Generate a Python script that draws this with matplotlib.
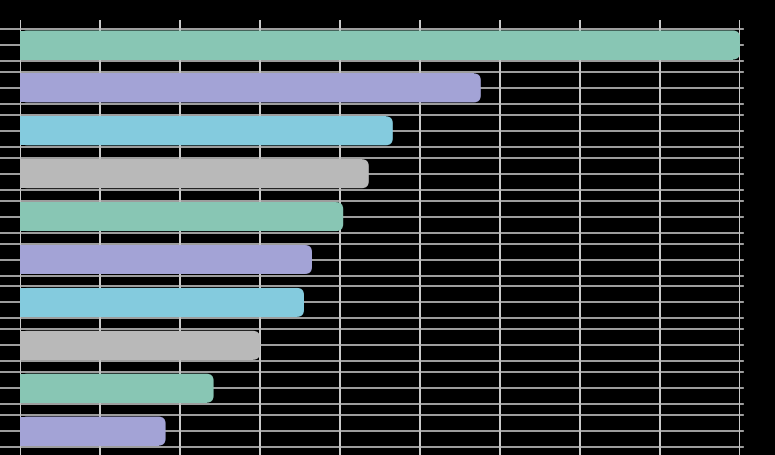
import matplotlib
matplotlib.use("Agg")
import matplotlib.pyplot as plt
from matplotlib.patches import FancyBboxPatch, Rectangle
import matplotlib.transforms as mtransforms

# datos
values = [90.0, 57.6, 46.6, 43.6, 40.4, 36.5, 35.5, 30.0, 24.2, 18.2]
colors = ["#88c6b4", "#a3a3d6", "#84cbde", "#b9b9b9", "#88c6b4",
          "#a3a3d6", "#84cbde", "#b9b9b9", "#88c6b4", "#a3a3d6"]
x_ticks = [0, 10, 20, 30, 40, 50, 60, 70, 80, 90]

W, H = 775, 456
fig = plt.figure(figsize=(W / 100, H / 100), dpi=100, facecolor="black")
ax = fig.add_axes([20 / W, 0, 720 / W, (H - 21) / H])
ax.set_facecolor("black")

px_x = 720 / 90          # px por unidad x
px_y = 42.9              # px por unidad y
ax.set_xlim(0, 90)
ax.set_ylim((H - 46) / px_y, -25 / px_y)
for s in ax.spines.values():
    s.set_visible(False)
ax.set_xticks([])
ax.set_yticks([])

# rejilla vertical
for t in x_ticks:
    ax.axvline(t, color="#cfcfcf", lw=1.4, zorder=1)

# rejilla horizontal (sale por los lados del eje)
trans = mtransforms.blended_transform_factory(ax.transAxes, ax.transData)
off = 16 / px_y
for i in range(len(values)):
    for dy in (-off, 0, off):
        ax.plot([-20 / 720, 723 / 720], [i + dy, i + dy], transform=trans,
                color="#bdbdbd", lw=1.2, clip_on=False, zorder=1)

# barras con esquinas redondeadas a la derecha
h = 29 / px_y
r = 7 / px_x
aspect = px_x / px_y
for i, (v, c) in enumerate(zip(values, colors)):
    box = FancyBboxPatch((0, i - h / 2), v, h,
                         boxstyle=f"round,pad=0,rounding_size={r}",
                         mutation_aspect=aspect, fc=c, ec="none", zorder=2)
    ax.add_patch(box)
    ax.add_patch(Rectangle((0, i - h / 2), v - r, h, fc=c, ec="none", zorder=2))

fig.savefig("out.png", dpi=100, facecolor="black")
